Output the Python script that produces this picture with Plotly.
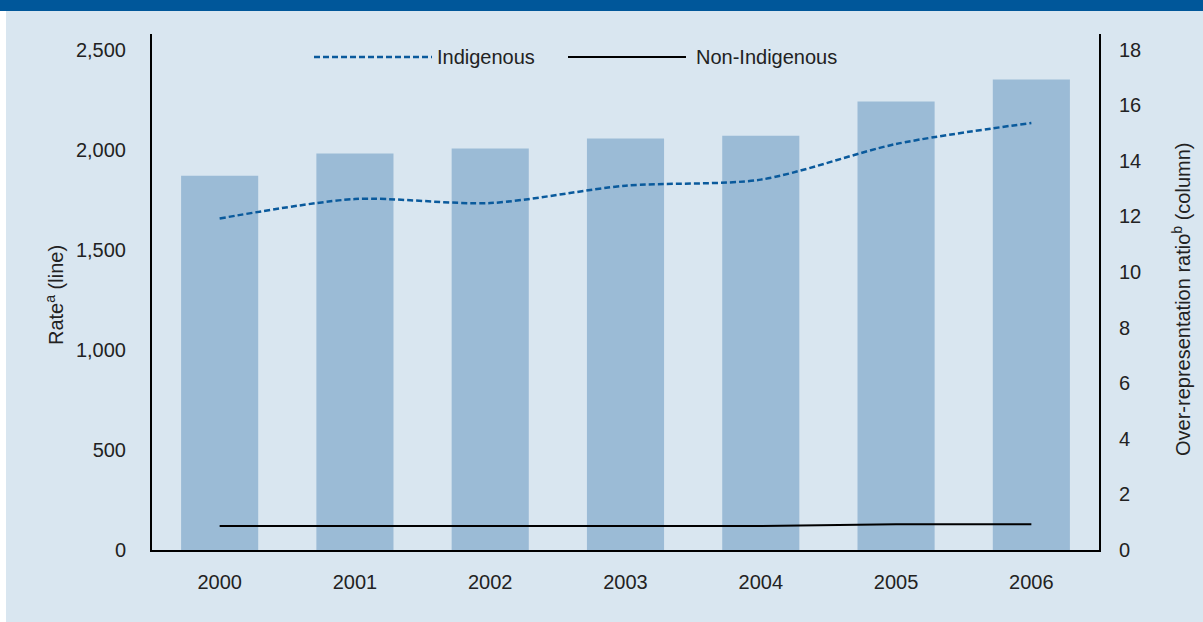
import plotly.graph_objects as go

years = ["2000", "2001", "2002", "2003", "2004", "2005", "2006"]
ratio = [13.46, 14.26, 14.44, 14.80, 14.90, 16.13, 16.92]
indigenous = [1656, 1753, 1733, 1820, 1850, 2028, 2133]
non_indigenous = [120, 120, 120, 120, 120, 128, 128]
left_ticks = [0, 500, 1000, 1500, 2000, 2500]
right_ticks = [0, 2, 4, 6, 8, 10, 12, 14, 16, 18]

W, H = 1203, 622
L, R, T, B = 152, 104, 34, 72
PW, PH = W - L - R, H - T - B

BG = "#d9e6f0"
BAR = "#9bbbd6"
BLUE = "#0a5a9c"
TXT = "#222222"
FONT = "Liberation Sans, Arial, sans-serif"


def px_x(x):
    return (x - L) / PW


def px_y(y):
    return (H - B - y) / PH


fig = go.Figure()
fig.add_trace(go.Bar(x=years, y=ratio, marker=dict(color=BAR, line=dict(width=0)),
                     width=0.57, yaxis="y", name="Over-representation ratio"))
fig.add_trace(go.Scatter(x=years, y=indigenous, mode="lines", yaxis="y2", name="Indigenous",
                         line=dict(color=BLUE, width=2.5, dash="6px,3px", shape="spline",
                                   smoothing=0.8)))
fig.add_trace(go.Scatter(x=years, y=non_indigenous, mode="lines", yaxis="y2", name="Non-Indigenous",
                         line=dict(color="black", width=2)))

shapes = [
    # top banner
    dict(type="rect", xref="paper", yref="paper", x0=px_x(-2), x1=px_x(W + 2), y0=px_y(11), y1=px_y(-2),
         fillcolor="#00579a", line=dict(width=0), layer="above"),
    # left white strip
    dict(type="rect", xref="paper", yref="paper", x0=px_x(-2), x1=px_x(6), y0=px_y(H + 2), y1=px_y(11),
         fillcolor="white", line=dict(width=0), layer="above"),
    # legend samples
    dict(type="line", xref="paper", yref="paper", x0=px_x(314), x1=px_x(432), y0=px_y(57), y1=px_y(57),
         line=dict(color=BLUE, width=2.5, dash="6px,3px")),
    dict(type="line", xref="paper", yref="paper", x0=px_x(568), x1=px_x(686), y0=px_y(57), y1=px_y(57),
         line=dict(color="black", width=2)),
]

annotations = [
    dict(text="Indigenous", xref="paper", yref="paper", x=px_x(435), y=px_y(57), xanchor="left",
         yanchor="middle", showarrow=False, font=dict(size=20, color=TXT, family=FONT)),
    dict(text="Non-Indigenous", xref="paper", yref="paper", x=px_x(694), y=px_y(57), xanchor="left",
         yanchor="middle", showarrow=False, font=dict(size=20, color=TXT, family=FONT)),
    dict(text="Rate<sup>a</sup> (line)", xref="paper", yref="paper", x=px_x(54), y=px_y(295),
         textangle=-90, xanchor="center", yanchor="middle", showarrow=False,
         font=dict(size=20, color=TXT, family=FONT)),
    dict(text="Over-representation ratio<sup>b</sup> (column)", xref="paper", yref="paper",
         x=px_x(1181), y=px_y(300), textangle=-90, xanchor="center", yanchor="middle",
         showarrow=False, font=dict(size=20, color=TXT, family=FONT)),
]

fig.update_layout(
    width=W, height=H,
    margin=dict(l=L, r=R, t=T, b=B, pad=0),
    paper_bgcolor=BG, plot_bgcolor=BG,
    showlegend=False,
    font=dict(family=FONT, size=20, color=TXT),
    bargap=0.43,
    xaxis=dict(type="category", range=[-0.5, 6.5], showline=True, linecolor="black", linewidth=2,
               showgrid=False, zeroline=False, ticks="outside", ticklen=13, tickcolor="rgba(0,0,0,0)",
               tickfont=dict(size=20, color=TXT, family=FONT)),
    yaxis=dict(side="right", range=[0, 18 * 516 / 500.5], tickvals=right_ticks, showline=True,
               linecolor="black", linewidth=2, showgrid=False, zeroline=False, ticks="outside",
               ticklen=14, tickcolor="rgba(0,0,0,0)", tickfont=dict(size=20, color=TXT, family=FONT)),
    yaxis2=dict(side="left", overlaying="y", range=[0, 2500 * 516 / 500.5], tickvals=left_ticks,
                tickformat=",d", showline=True, linecolor="black", linewidth=2, showgrid=False,
                zeroline=False, ticks="outside", ticklen=20, tickcolor="rgba(0,0,0,0)",
                tickfont=dict(size=20, color=TXT, family=FONT)),
    shapes=shapes,
    annotations=annotations,
)

fig.write_html("out.html", config={"displayModeBar": False},
               post_script="document.body.style.margin='0px';document.body.style.overflow='hidden';")
